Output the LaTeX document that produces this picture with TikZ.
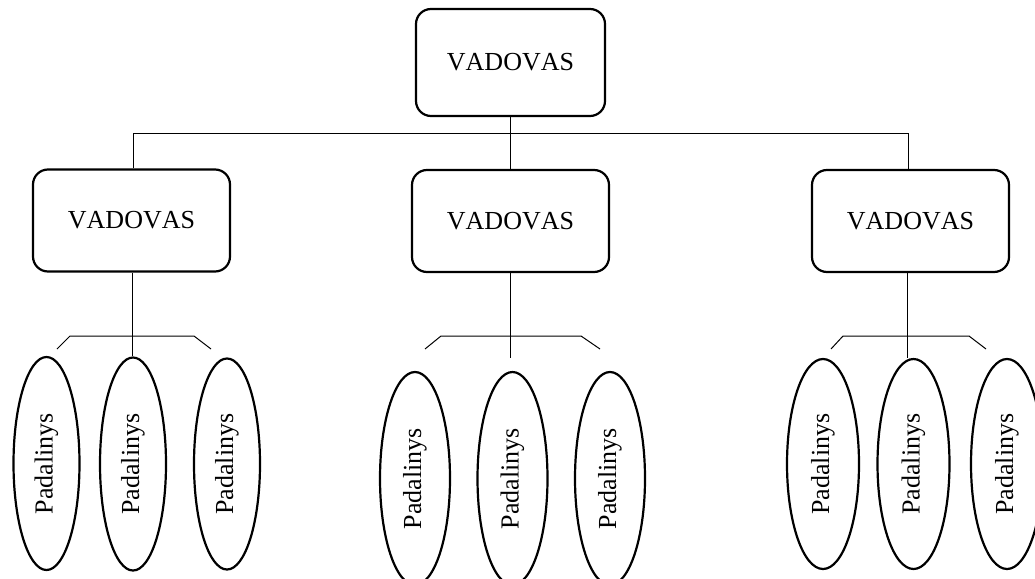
\documentclass[tikz,border=0pt]{standalone}
\usepackage{fontspec}
\usepackage{graphicx}
\setmainfont{Liberation Serif}[Kerning=Off]
\usetikzlibrary{shapes.geometric}
\tikzset{
  boss/.style={draw, line width=2.2pt, rounded corners=15pt, minimum width=197pt,
               minimum height=102pt, inner sep=0pt, font=\fontsize{26}{30}\selectfont},
  unit/.style={draw, ellipse, line width=2.2pt, minimum width=68pt, minimum height=212pt,
               inner sep=0pt, font=\fontsize{26}{30}\selectfont},
  link/.style={line width=1pt}
}
\newcommand{\unitlabel}{\rotatebox{90}{Padalinys}}
\begin{document}
\begin{tikzpicture}[x=1pt,y=-1pt]
\useasboundingbox (0,0) rectangle (1035,578);

% top manager
\node[boss, minimum width=189pt, minimum height=107pt] (top) at (510.5,62.5) {VADOVAS};

% second-level managers
\node[boss] (lb) at (131.5,220.5) {VADOVAS};
\node[boss] (mb) at (510.5,221) {VADOVAS};
\node[boss] (rb) at (910.5,221) {VADOVAS};

% units, left group
\node[unit, minimum width=66pt, minimum height=213pt] (l1) at (46.5,463.5) {\unitlabel};
\node[unit, minimum width=66pt, minimum height=213pt] (l2) at (133,464) {\unitlabel};
\node[unit, minimum width=66pt, minimum height=211pt] (l3) at (227,464) {\unitlabel};

% units, middle group
\node[unit, minimum width=70pt, minimum height=213pt] (m1) at (415,478.5) {\unitlabel};
\node[unit, minimum width=70pt, minimum height=213pt] (m2) at (512.5,478.5) {\unitlabel};
\node[unit, minimum width=70pt, minimum height=213pt] (m3) at (610,478.5) {\unitlabel};

% units, right group
\node[unit, minimum width=72pt, minimum height=210pt] (r1) at (823,464) {\unitlabel};
\node[unit, minimum width=72pt, minimum height=210pt] (r2) at (913.5,464) {\unitlabel};
\node[unit, minimum width=72pt, minimum height=210pt] (r3) at (1007,464) {\unitlabel};

% top-level links
\draw[link] (top.south) -- (mb.north);
\draw[link] ([xshift=1.5pt]lb.north) -- ([xshift=1.5pt]lb.north |- 0,133)
  -- ([xshift=-2.5pt]rb.north |- 0,133) -- ([xshift=-2.5pt]rb.north);

% stems down to the unit brackets
\coordinate (mstem) at (510.5,358);
\draw[link] ([xshift=1pt]lb.south) -- ([xshift=1pt]lb.south |- l2.north);
\draw[link] (mb.south) -- (mstem);
\draw[link] ([xshift=-3pt]rb.south) -- ([xshift=-3pt]rb.south |- r2.north);

% brackets over the unit groups
\coordinate (lbr1) at (57,349);  \coordinate (lbr2) at (70,336);
\coordinate (lbr3) at (194,336); \coordinate (lbr4) at (211,349);
\draw[link] (lbr1) -- (lbr2) -- (lbr3) -- (lbr4);

\coordinate (mbr1) at (425,349); \coordinate (mbr2) at (441,336);
\coordinate (mbr3) at (581,336); \coordinate (mbr4) at (600,349);
\draw[link] (mbr1) -- (mbr2) -- (mbr3) -- (mbr4);

\coordinate (rbr1) at (831,349); \coordinate (rbr2) at (843,336);
\coordinate (rbr3) at (969,336); \coordinate (rbr4) at (986,349);
\draw[link] (rbr1) -- (rbr2) -- (rbr3) -- (rbr4);
\end{tikzpicture}
\end{document}
